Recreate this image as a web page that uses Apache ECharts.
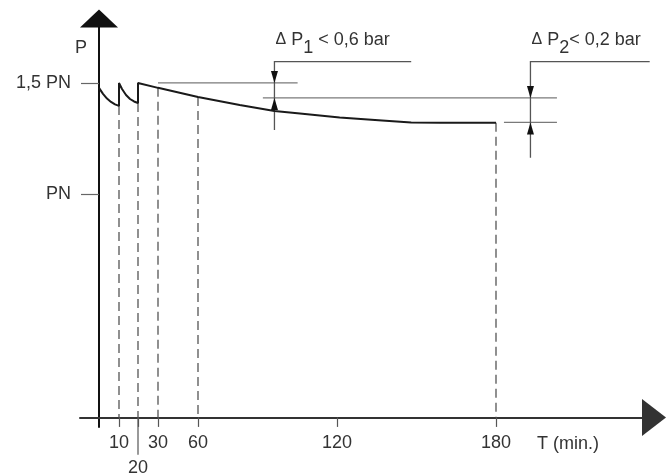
<!DOCTYPE html>
<html>
<head>
<meta charset="utf-8">
<style>
  html, body { margin: 0; padding: 0; background: #fff; }
  #main { width: 666px; height: 473px; }
</style>
<script src="https://cdn.jsdelivr.net/npm/echarts@6/dist/echarts.min.js"></script>
</head>
<body>
<div id="main"></div>
<script>
// time ticks (min) and where they sit on the drawing - the time axis is not to scale
var tickT = [0, 10, 20, 30, 60, 120, 180];
var tickX = [0, 10, 19.5, 29.5, 49.5, 119, 198.5];

// pressure curve, P as a multiple of PN
var curveT = [0, 2, 4, 6, 8, 10, 10, 11.6, 13.7, 15.8, 17.9, 20, 20, 30, 60, 78, 93, 104, 121, 137, 148, 159, 180];
var curveP = [1.478, 1.451, 1.430, 1.415, 1.404, 1.397, 1.5, 1.473, 1.446, 1.428, 1.417, 1.410,
              1.5, 1.478, 1.437, 1.401, 1.374, 1.363, 1.345, 1.332, 1.323, 1.321, 1.321];

// dashed drop lines from the curve to the time axis
var dropT = [10, 20, 30, 60, 180];
var longTickT = 20;   // its label sits one row lower
var longTickP = -0.168;

// pressure ticks
var pLevels = [1, 1.5];
var pLabels = ['PN', '1,5 PN'];

// reference lines [t start, t end, P]
var refLines = [
    [30, 103, 1.5],
    [88, 203, 1.433],
    [183, 203, 1.323]
];

// ΔP dimensions
var dimT = [93, 193];
var dimHi = [1.5, 1.433];
var dimLo = [1.433, 1.323];
var dimLeaderT = [148, 238];
var dimLeaderP = [1.596, 1.596];
var dimBottomP = [1.289, 1.164];
var dimSub = ['1', '2'];
var dimText = [' < 0,6 bar', '< 0,2 bar'];

var FONT = 'Liberation Sans';

// time (min) -> position on the drawn axis
function pos(t) {
    var n = tickT.length, i = 1;
    while (i < n - 1 && t > tickT[i]) i++;
    return tickX[i - 1] + (t - tickT[i - 1]) * (tickX[i] - tickX[i - 1]) / (tickT[i] - tickT[i - 1]);
}

function lowestAt(t) {
    var m = Infinity;
    for (var i = 0; i < curveT.length; i++) {
        if (curveT[i] === t && curveP[i] < m) m = curveP[i];
    }
    return m;
}

var upperTicks = tickT.filter(function (t) { return t > 0 && t !== longTickT; });

var chart = echarts.init(document.getElementById('main'));

var option = {
    animation: false,
    backgroundColor: '#fff',
    grid: { left: 80, right: 12, top: 18.5, bottom: 46, containLabel: false, outerBoundsMode: 'none' },
    xAxis: [{
        type: 'value',
        min: -9.5,
        max: 277.5,
        name: 'T (min.)',
        nameLocation: 'end',
        nameGap: -117,
        nameTextStyle: { color: '#333', fontSize: 18, fontFamily: FONT, align: 'left', verticalAlign: 'top', lineHeight: 24, padding: [15, 0, 0, 0] },
        splitLine: { show: false },
        axisLine: {
            onZero: true,
            symbol: ['none', 'triangle'],
            symbolSize: [37, 24],
            lineStyle: { color: '#333', width: 2 }
        },
        axisTick: {
            customValues: tickX.slice(1),
            length: 9.5,
            lineStyle: { color: '#555', width: 1.2 }
        },
        axisLabel: {
            customValues: upperTicks.map(pos),
            showMinLabel: true,
            showMaxLabel: true,
            margin: 5,
            lineHeight: 23,
            verticalAlign: 'top',
            color: '#333',
            fontSize: 18,
            fontFamily: FONT,
            formatter: function (v) {
                return String(tickT[tickX.indexOf(v)]);
            }
        }
    }, {
        // second row of time labels
        type: 'value',
        position: 'bottom',
        min: -9.5,
        max: 277.5,
        splitLine: { show: false },
        axisLine: { show: false, onZero: false },
        axisTick: { show: false },
        axisLabel: {
            customValues: [pos(longTickT)],
            showMinLabel: true,
            showMaxLabel: true,
            margin: 30,
            lineHeight: 23,
            verticalAlign: 'top',
            color: '#333',
            fontSize: 18,
            fontFamily: FONT,
            formatter: function () { return String(longTickT); }
        }
    }],
    yAxis: {
        type: 'value',
        min: -0.043,
        max: 1.789,
        name: 'P',
        nameLocation: 'end',
        nameGap: -29.5,
        nameTextStyle: { color: '#333', fontSize: 18, fontFamily: FONT, align: 'right', verticalAlign: 'middle', padding: [0, 12, 0, 0] },
        splitLine: { show: false },
        axisLine: {
            onZero: true,
            onZeroAxisIndex: 0,
            symbol: ['none', 'triangle'],
            symbolSize: [38, 18],
            lineStyle: { color: '#111', width: 2 }
        },
        axisTick: {
            customValues: pLevels,
            length: 18,
            lineStyle: { color: '#666', width: 1.2 }
        },
        axisLabel: {
            customValues: pLevels,
            showMinLabel: true,
            showMaxLabel: true,
            margin: 9,
            color: '#333',
            fontSize: 18,
            fontFamily: FONT,
            formatter: function (v) {
                return pLabels[pLevels.indexOf(v)];
            }
        }
    },
    series: [
        {
            name: 'drops',
            type: 'custom',
            data: dropT.map(function (t) { return [pos(t)]; }),
            renderItem: function (params, api) {
                var t = dropT[params.dataIndex];
                var a = api.coord([pos(t), lowestAt(t)]);
                var b = api.coord([pos(t), 0]);
                var kids = [{
                    type: 'line',
                    shape: { x1: a[0], y1: a[1], x2: b[0], y2: b[1] },
                    style: { stroke: '#555', lineWidth: 1.3, lineDash: [9, 5] }
                }];
                if (t === longTickT) {
                    var c = api.coord([pos(t), longTickP]);
                    kids.push({
                        type: 'line',
                        shape: { x1: b[0], y1: b[1], x2: c[0], y2: c[1] },
                        style: { stroke: '#555', lineWidth: 1.2 }
                    });
                }
                return { type: 'group', children: kids };
            }
        },
        {
            name: 'refs',
            type: 'custom',
            data: refLines.map(function (r) { return [pos(r[0]), r[2]]; }),
            renderItem: function (params, api) {
                var r = refLines[params.dataIndex];
                var a = api.coord([pos(r[0]), r[2]]);
                var b = api.coord([pos(r[1]), r[2]]);
                return {
                    type: 'line',
                    shape: { x1: a[0], y1: a[1], x2: b[0], y2: b[1] },
                    style: { stroke: '#7a7a7a', lineWidth: 1.3 }
                };
            }
        },
        {
            name: 'dims',
            type: 'custom',
            data: dimT.map(function (t, i) { return [pos(t), dimHi[i]]; }),
            renderItem: function (params, api) {
                var i = params.dataIndex;
                var top = api.coord([pos(dimT[i]), dimLeaderP[i]]);
                var bot = api.coord([pos(dimT[i]), dimBottomP[i]]);
                var lead = api.coord([pos(dimLeaderT[i]), dimLeaderP[i]]);
                var hi = api.coord([pos(dimT[i]), dimHi[i]])[1];
                var lo = api.coord([pos(dimT[i]), dimLo[i]])[1];
                var x = top[0];
                var txt = { fontSize: 18, fontFamily: FONT, lineHeight: 18, verticalAlign: 'top' };
                return {
                    type: 'group',
                    children: [
                        {
                            type: 'polyline',
                            shape: { points: [lead, top, bot] },
                            style: { stroke: '#555', lineWidth: 1.3, fill: null }
                        },
                        {
                            type: 'polygon',
                            shape: { points: [[x, hi], [x - 3.5, hi - 12], [x + 3.5, hi - 12]] },
                            style: { fill: '#111' }
                        },
                        {
                            type: 'polygon',
                            shape: { points: [[x, lo], [x - 3.5, lo + 12], [x + 3.5, lo + 12]] },
                            style: { fill: '#111' }
                        },
                        {
                            type: 'text',
                            x: x + 1,
                            y: top[1] - 31,
                            style: {
                                text: '{d|Δ}{n| P}{s|' + dimSub[i] + '}{n|' + dimText[i] + '}',
                                fill: '#333',
                                align: 'left',
                                verticalAlign: 'top',
                                rich: {
                                    d: { fontSize: 16, fontFamily: FONT, lineHeight: 18, verticalAlign: 'top', padding: [1, 0, 0, 0] },
                                    n: txt,
                                    s: { fontSize: 18, fontFamily: FONT, lineHeight: 18, verticalAlign: 'top', padding: [8, 0, 0, 0] }
                                }
                            }
                        }
                    ]
                };
            }
        },
        {
            name: 'P',
            type: 'line',
            data: curveT.map(function (t, i) { return [pos(t), curveP[i]]; }),
            showSymbol: false,
            symbol: 'none',
            z: 5,
            lineStyle: { color: '#1a1a1a', width: 2 }
        }
    ]
};

chart.setOption(option);
</script>
</body>
</html>
